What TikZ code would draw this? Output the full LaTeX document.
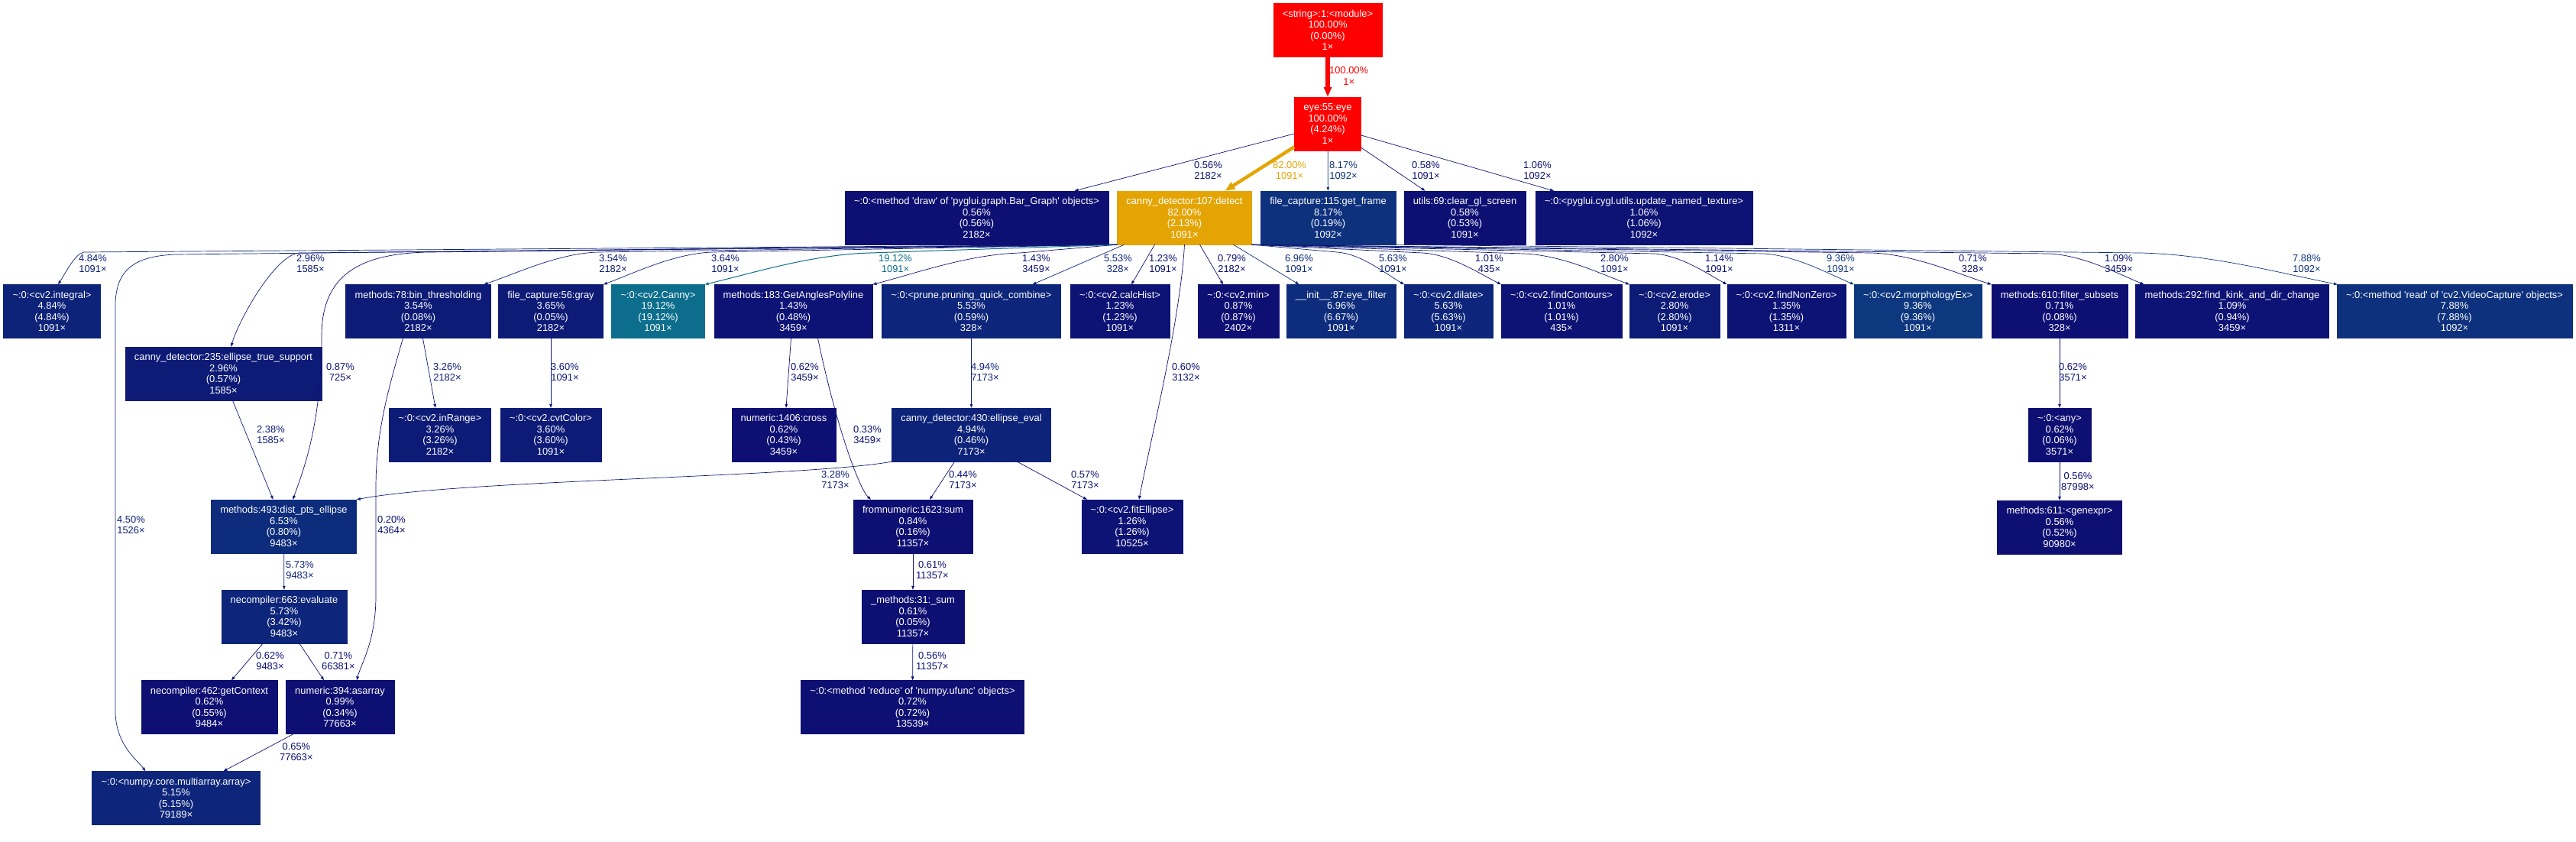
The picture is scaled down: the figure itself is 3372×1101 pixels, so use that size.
\documentclass[tikz,border=0pt]{standalone}
\usepackage{fontspec}
\newfontfamily\callfont{Liberation Sans}
\usepackage{tikz}
\usetikzlibrary{arrows.meta}

\definecolor{hotred}{HTML}{FF0000}
\definecolor{detectc}{HTML}{E4A504}
\definecolor{cannyc}{HTML}{0C6E8C}
\definecolor{b936}{HTML}{0D377F}
\definecolor{b8}{HTML}{0D317D}
\definecolor{b7}{HTML}{0D2C7C}
\definecolor{b5}{HTML}{0D257A}
\definecolor{b4}{HTML}{0D2279}
\definecolor{b3}{HTML}{0D1B77}
\definecolor{b1}{HTML}{0D1275}
\definecolor{b0}{HTML}{0D0F73}

\begin{document}
\begin{tikzpicture}[x=1pt, y=-1pt,
  fn/.style={rectangle, fill=#1, draw=#1, text=white, align=center,
             inner xsep=12pt, inner ysep=0pt, minimum height=70pt,
             font=\callfont\fontsize{12.9}{14.5}\selectfont},
  lbl/.style={anchor=west, align=center, inner sep=0pt, text=#1,
              font=\callfont\fontsize{12.9}{14.5}\selectfont},
  calledge/.style={draw=#1, line width=0.7pt, -{Triangle[length=5pt, width=3.6pt]}},
  hotedge/.style={draw=#1, line width=5.3pt, -{Triangle[length=13pt, width=10pt]}}
]
  \fill[white] (0,0) rectangle (3372,1101);
  \useasboundingbox (0,0) rectangle (3372,1101);

  % Functions (boxes)
  \node[fn=hotred] (module) at (1738,39.5) {<string>:1:<module>\\100.00\%\\(0.00\%)\\1×};
  \node[fn=hotred] (eye) at (1738,162) {eye:55:eye\\100.00\%\\(4.24\%)\\1×};

  \node[fn=b0] (bargraph) at (1278.5,285) {\textasciitilde:0:<method 'draw' of 'pyglui.graph.Bar\_Graph' objects>\\0.56\%\\(0.56\%)\\2182×};
  \node[fn=detectc] (detect) at (1550.5,285) {canny\_detector:107:detect\\82.00\%\\(2.13\%)\\1091×};
  \node[fn=b8] (getframe) at (1738.5,285) {file\_capture:115:get\_frame\\8.17\%\\(0.19\%)\\1092×};
  \node[fn=b0] (clearscr) at (1917.5,285) {utils:69:clear\_gl\_screen\\0.58\%\\(0.53\%)\\1091×};
  \node[fn=b1] (texture) at (2152,285) {\textasciitilde:0:<pyglui.cygl.utils.update\_named\_texture>\\1.06\%\\(1.06\%)\\1092×};

  \node[fn=b4] (integral) at (68,407.5) {\textasciitilde:0:<cv2.integral>\\4.84\%\\(4.84\%)\\1091×};
  \node[fn=b3] (binthr) at (547.5,407.5) {methods:78:bin\_thresholding\\3.54\%\\(0.08\%)\\2182×};
  \node[fn=b3] (gray) at (721,407.5) {file\_capture:56:gray\\3.65\%\\(0.05\%)\\2182×};
  \node[fn=cannyc] (canny) at (861.5,407.5) {\textasciitilde:0:<cv2.Canny>\\19.12\%\\(19.12\%)\\1091×};
  \node[fn=b1] (angles) at (1038.5,407.5) {methods:183:GetAnglesPolyline\\1.43\%\\(0.48\%)\\3459×};
  \node[fn=b5] (prune) at (1271.5,407.5) {\textasciitilde:0:<prune.pruning\_quick\_combine>\\5.53\%\\(0.59\%)\\328×};
  \node[fn=b1] (calchist) at (1466,407.5) {\textasciitilde:0:<cv2.calcHist>\\1.23\%\\(1.23\%)\\1091×};
  \node[fn=b0] (cvmin) at (1621,407.5) {\textasciitilde:0:<cv2.min>\\0.87\%\\(0.87\%)\\2402×};
  \node[fn=b7] (eyefilter) at (1755.5,407.5) {\_\_init\_\_:87:eye\_filter\\6.96\%\\(6.67\%)\\1091×};
  \node[fn=b5] (dilate) at (1896,407.5) {\textasciitilde:0:<cv2.dilate>\\5.63\%\\(5.63\%)\\1091×};
  \node[fn=b1] (contours) at (2044,407.5) {\textasciitilde:0:<cv2.findContours>\\1.01\%\\(1.01\%)\\435×};
  \node[fn=b3] (erode) at (2192,407.5) {\textasciitilde:0:<cv2.erode>\\2.80\%\\(2.80\%)\\1091×};
  \node[fn=b1] (nonzero) at (2338.5,407.5) {\textasciitilde:0:<cv2.findNonZero>\\1.35\%\\(1.35\%)\\1311×};
  \node[fn=b936] (morph) at (2510.5,407.5) {\textasciitilde:0:<cv2.morphologyEx>\\9.36\%\\(9.36\%)\\1091×};
  \node[fn=b0] (subsets) at (2696,407.5) {methods:610:filter\_subsets\\0.71\%\\(0.08\%)\\328×};
  \node[fn=b1] (kink) at (2922,407.5) {methods:292:find\_kink\_and\_dir\_change\\1.09\%\\(0.94\%)\\3459×};
  \node[fn=b8] (vidread) at (3213,407.5) {\textasciitilde:0:<method 'read' of 'cv2.VideoCapture' objects>\\7.88\%\\(7.88\%)\\1092×};

  \node[fn=b3] (truesupp) at (292.5,489) {canny\_detector:235:ellipse\_true\_support\\2.96\%\\(0.57\%)\\1585×};
  \node[fn=b3] (inrange) at (576,569) {\textasciitilde:0:<cv2.inRange>\\3.26\%\\(3.26\%)\\2182×};
  \node[fn=b3] (cvtcolor) at (721,569) {\textasciitilde:0:<cv2.cvtColor>\\3.60\%\\(3.60\%)\\1091×};
  \node[fn=b0] (cross) at (1026,569) {numeric:1406:cross\\0.62\%\\(0.43\%)\\3459×};
  \node[fn=b4] (ellipseeval) at (1271.5,569) {canny\_detector:430:ellipse\_eval\\4.94\%\\(0.46\%)\\7173×};
  \node[fn=b0] (anyfn) at (2696,569) {\textasciitilde:0:<any>\\0.62\%\\(0.06\%)\\3571×};

  \node[fn=b7] (distpts) at (371.5,689) {methods:493:dist\_pts\_ellipse\\6.53\%\\(0.80\%)\\9483×};
  \node[fn=b0] (fsum) at (1195,689) {fromnumeric:1623:sum\\0.84\%\\(0.16\%)\\11357×};
  \node[fn=b1] (fitellipse) at (1482,689) {\textasciitilde:0:<cv2.fitEllipse>\\1.26\%\\(1.26\%)\\10525×};
  \node[fn=b0] (genexpr) at (2696,690) {methods:611:<genexpr>\\0.56\%\\(0.52\%)\\90980×};

  \node[fn=b5] (evaluate) at (372,807) {necompiler:663:evaluate\\5.73\%\\(3.42\%)\\9483×};
  \node[fn=b0] (msum) at (1195,807) {\_methods:31:\_sum\\0.61\%\\(0.05\%)\\11357×};

  \node[fn=b0] (getctx) at (274,925.5) {necompiler:462:getContext\\0.62\%\\(0.55\%)\\9484×};
  \node[fn=b0] (asarray) at (445,925.5) {numeric:394:asarray\\0.99\%\\(0.34\%)\\77663×};
  \node[fn=b0] (reduce) at (1194.5,925.5) {\textasciitilde:0:<method 'reduce' of 'numpy.ufunc' objects>\\0.72\%\\(0.72\%)\\13539×};

  \node[fn=b5] (multiarray) at (230.5,1044.5) {\textasciitilde:0:<numpy.core.multiarray.array>\\5.15\%\\(5.15\%)\\79189×};

  % Calls from the top
  \draw[hotedge=hotred] (module) -- (eye);
  \draw[calledge=b0] ([yshift=-13pt]eye.west) -- ([xshift=128pt]bargraph.north);
  \draw[hotedge=detectc, line width=4.4pt] ([yshift=5pt]eye.south west) -- ([xshift=53pt]detect.north);
  \draw[calledge=b8] (eye) -- (getframe);
  \draw[calledge=b0] ([yshift=4pt]eye.south east) -- ([xshift=-52pt]clearscr.north);
  \draw[calledge=b1] ([yshift=-15pt]eye.east) -- ([xshift=-118pt]texture.north);

  % Calls out of detect, left bundle
  \draw[calledge=b4] (detect.south west) -- (110,330) .. controls (98,332) and (86,357) .. ([xshift=8pt]integral.north);
  \draw[calledge=b3] (detect.south west) -- (392,331) .. controls (360,333) and (312,420) .. ([xshift=10pt]truesupp.north);
  \draw[calledge=b4] (detect.south west) -- (230,333) .. controls (180,335) and (151,350) .. (151,400)
    -- (151,930) .. controls (151,975) and (180,995) .. ([xshift=-40pt]multiarray.north);
  \draw[calledge=b0] (detect.south west) -- (560,330) .. controls (470,332) and (421,360) .. (421,440)
    .. controls (421,560) and (395,620) .. ([xshift=12pt]distpts.north);
  \draw[calledge=b3] (detect.south west) -- (782,330) .. controls (730,332) and (678,357) .. ([xshift=86pt]binthr.north);
  \draw[calledge=b3] (detect.south west) -- (932,330) .. controls (882,332) and (831,357) .. (gray.north east);
  \draw[calledge=cannyc, line width=1pt] (detect.south west) -- (1139,331) .. controls (1063,333) and (987,357) .. (canny.north east);
  \draw[calledge=b1] (detect.south west) -- (1335,331) .. controls (1268,333) and (1201,357) .. (angles.north east);
  \draw[calledge=b5] ([xshift=-79pt]detect.south) -- ([xshift=80pt]prune.north);
  \draw[calledge=b1] ([xshift=-39pt]detect.south) -- ([xshift=15pt]calchist.north);
  \draw[calledge=b0] (detect.south) .. controls (1545,420) and (1505,580) .. ([xshift=9pt]fitellipse.north);
  \draw[calledge=b0] ([xshift=20pt]detect.south) -- ([xshift=-20pt]cvmin.north);
  \draw[calledge=b7] ([xshift=64pt]detect.south) -- ([xshift=-55pt]eyefilter.north);

  % Calls out of detect, right bundle
  \draw[calledge=b5] (detect.south east) -- (1750,330) .. controls (1781,332) and (1812,357) .. (dilate.north west);
  \draw[calledge=b1] (detect.south east) -- (1862,331) .. controls (1898,333) and (1935,357) .. (contours.north west);
  \draw[calledge=b3] (detect.south east) -- (1995,332) .. controls (2044,334) and (2092,357) .. (erode.north west);
  \draw[calledge=b1] (detect.south east) -- (2165,332) .. controls (2199,334) and (2233,357) .. (nonzero.north west);
  \draw[calledge=b936] (detect.south east) -- (2308,332) .. controls (2349,334) and (2391,357) .. (morph.north west);
  \draw[calledge=b0] (detect.south east) -- (2450,331) .. controls (2505,333) and (2559,357) .. (subsets.north west);
  \draw[calledge=b1] (detect.south east) -- (2682,332) .. controls (2726,334) and (2770,357) .. ([xshift=11pt]kink.north west);
  \draw[calledge=b8] (getframe.south east) -- (2802,331) .. controls (2893,333) and (2983,357) .. ([xshift=1pt]vidread.north west);

  % Lower calls
  \draw[calledge=b3] ([xshift=6pt]binthr.south) -- ([xshift=-6pt]inrange.north);
  \draw[calledge=b0] ([xshift=-20pt]binthr.south) .. controls (505,520) and (492,570) .. (492,640)
    -- (492,780) .. controls (492,840) and (472,870) .. ([xshift=22pt]asarray.north);
  \draw[calledge=b3] (gray) -- (cvtcolor);
  \draw[calledge=b3] ([xshift=12pt]truesupp.south) -- ([xshift=-14pt]distpts.north);
  \draw[calledge=b0] ([xshift=-3pt]angles.south) -- ([xshift=3pt]cross.north);
  \draw[calledge=b0] ([xshift=32pt]angles.south) .. controls (1095,560) and (1125,640) .. ([xshift=-55pt]fsum.north);
  \draw[calledge=b4] (prune) -- (ellipseeval);
  \draw[calledge=b3] (ellipseeval.south west) .. controls (1050,625) and (600,628) .. (distpts.north east);
  \draw[calledge=b0] ([xshift=-22pt]ellipseeval.south) -- ([xshift=22pt]fsum.north);
  \draw[calledge=b0] ([xshift=60pt]ellipseeval.south) -- ([xshift=-59pt]fitellipse.north);
  \draw[calledge=b5] (distpts) -- (evaluate);
  \draw[calledge=b0] ([xshift=-28pt]evaluate.south) -- ([xshift=29pt]getctx.north);
  \draw[calledge=b0] ([xshift=20pt]evaluate.south) -- ([xshift=-21pt]asarray.north);
  \draw[calledge=b0] ([xshift=-61pt]asarray.south) -- ([xshift=62pt]multiarray.north);
  \draw[calledge=b0] (fsum) -- (msum);
  \draw[calledge=b0] (msum) -- (reduce);
  \draw[calledge=b0] (subsets) -- (anyfn);
  \draw[calledge=b0] (anyfn) -- (genexpr);

  % Edge labels
  \node[lbl=hotred] (l-eye) at (1740,99.5) {100.00\%\\1×};
  \node[lbl=b0] (l-bargraph) at (1563,223) {0.56\%\\2182×};
  \node[lbl=detectc] (l-detect) at (1666,223) {82.00\%\\1091×};
  \node[lbl=b8] (l-getframe) at (1740,223) {8.17\%\\1092×};
  \node[lbl=b0] (l-clearscr) at (1848,223) {0.58\%\\1091×};
  \node[lbl=b1] (l-texture) at (1994,223) {1.06\%\\1092×};

  \node[lbl=b4] (l-integral) at (103,345) {4.84\%\\1091×};
  \node[lbl=b3] (l-truesupp) at (388,345) {2.96\%\\1585×};
  \node[lbl=b3] (l-binthr) at (784,345) {3.54\%\\2182×};
  \node[lbl=b3] (l-gray) at (931,345) {3.64\%\\1091×};
  \node[lbl=cannyc] (l-canny) at (1150,345) {19.12\%\\1091×};
  \node[lbl=b1] (l-angles) at (1338,345) {1.43\%\\3459×};
  \node[lbl=b5] (l-prune) at (1445,345) {5.53\%\\328×};
  \node[lbl=b1] (l-calchist) at (1504,345) {1.23\%\\1091×};
  \node[lbl=b0] (l-cvmin) at (1594,345) {0.79\%\\2182×};
  \node[lbl=b7] (l-eyefilter) at (1682,345) {6.96\%\\1091×};
  \node[lbl=b5] (l-dilate) at (1805,345) {5.63\%\\1091×};
  \node[lbl=b1] (l-contours) at (1931,345) {1.01\%\\435×};
  \node[lbl=b3] (l-erode) at (2095,345) {2.80\%\\1091×};
  \node[lbl=b1] (l-nonzero) at (2232,345) {1.14\%\\1091×};
  \node[lbl=b936] (l-morph) at (2391,345) {9.36\%\\1091×};
  \node[lbl=b0] (l-subsets) at (2564,345) {0.71\%\\328×};
  \node[lbl=b1] (l-kink) at (2755,345) {1.09\%\\3459×};
  \node[lbl=b8] (l-vidread) at (3001,345) {7.88\%\\1092×};

  \node[lbl=b0] (l-distpts) at (427,487) {0.87\%\\725×};
  \node[lbl=b3] (l-inrange) at (567,487) {3.26\%\\2182×};
  \node[lbl=b3] (l-cvtcolor) at (721,487) {3.60\%\\1091×};
  \node[lbl=b0] (l-cross) at (1035,487) {0.62\%\\3459×};
  \node[lbl=b4] (l-ellipseeval) at (1271,487) {4.94\%\\7173×};
  \node[lbl=b0] (l-fitellipse) at (1534,487) {0.60\%\\3132×};
  \node[lbl=b0] (l-anyfn) at (2695,487) {0.62\%\\3571×};
  \node[lbl=b3] (l-support) at (336,569) {2.38\%\\1585×};
  \node[lbl=b0] (l-fsum) at (1117,569) {0.33\%\\3459×};
  \node[lbl=b3] (l-evaldist) at (1075,628) {3.28\%\\7173×};
  \node[lbl=b0] (l-evalsum) at (1242,628) {0.44\%\\7173×};
  \node[lbl=b0] (l-evalfit) at (1402,628) {0.57\%\\7173×};
  \node[lbl=b0] (l-genexpr) at (2698,630) {0.56\%\\87998×};
  \node[lbl=b4] (l-multiarray) at (153,687) {4.50\%\\1526×};
  \node[lbl=b0] (l-asarray) at (494,687) {0.20\%\\4364×};
  \node[lbl=b5] (l-evaluate) at (374,746) {5.73\%\\9483×};
  \node[lbl=b0] (l-msum) at (1199,746) {0.61\%\\11357×};
  \node[lbl=b0] (l-getctx) at (335,865) {0.62\%\\9483×};
  \node[lbl=b0] (l-evalarr) at (421,865) {0.71\%\\66381×};
  \node[lbl=b0] (l-reduce) at (1199,865) {0.56\%\\11357×};
  \node[lbl=b0] (l-arrmulti) at (366,984) {0.65\%\\77663×};
\end{tikzpicture}
\end{document}
